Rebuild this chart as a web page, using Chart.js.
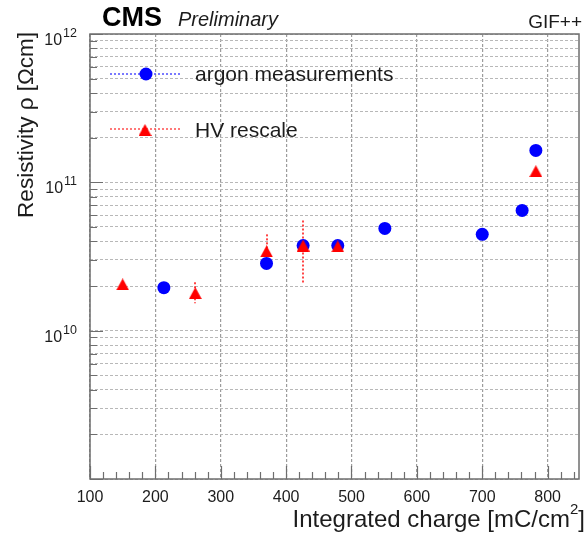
<!DOCTYPE html>
<html>
<head>
<meta charset="utf-8">
<script src="https://cdn.jsdelivr.net/npm/chart.js@4.4.0/dist/chart.umd.min.js"></script>
<style>
  html, body { margin: 0; padding: 0; background: #fff; }
  #wrap { width: 587px; height: 536px; }
</style>
</head>
<body>
<div id="wrap"><canvas id="c" width="587" height="536"></canvas></div>
<script>
// argon measurements
var argonCharge = [213, 370, 426, 479, 551, 700, 761, 782];
var argonRho = [1.95e10, 2.84e10, 3.75e10, 3.75e10, 4.89e10, 4.46e10, 6.47e10, 1.64e11];
// HV rescale
var hvCharge = [150, 261, 370, 426, 479, 782];
var hvRho = [2.05e10, 1.79e10, 3.42e10, 3.75e10, 3.70e10, 1.19e11];
var hvRhoLow = [null, 1.53e10, 2.67e10, 2.09e10, null, null];
var hvRhoHigh = [null, 2.12e10, 4.46e10, 5.53e10, null, null];
// axes
var xMajorTicks = [100, 200, 300, 400, 500, 600, 700, 800];
var yDecades = [9, 10, 11, 12];
var yLabelDecades = [10, 11, 12];

var FONT = '"Liberation Sans", Arial, Helvetica, sans-serif';
var TEXT = '#1c1c1c';
var AXIS = '#6e6e6e';

function triangleMarker(color, w, h) {
    var c = document.createElement('canvas');
    c.width = w; c.height = h;
    var g = c.getContext('2d');
    g.fillStyle = color;
    g.beginPath();
    g.moveTo(w / 2, 0);
    g.lineTo(w, h);
    g.lineTo(0, h);
    g.closePath();
    g.fill();
    return c;
}
var redTriangle = triangleMarker('#ff0000', 13, 12);

function pts(xs, ys) {
    return xs.map(function (x, i) { return {x: x, y: ys[i]}; });
}

var errorBars = {
    id: 'errorBars',
    beforeDatasetsDraw: function (chart) {
        var ctx = chart.ctx, xs = chart.scales.x, ys = chart.scales.y;
        ctx.save();
        ctx.strokeStyle = '#ff1a1a';
        ctx.lineWidth = 1.6;
        ctx.setLineDash([2, 2]);
        hvCharge.forEach(function (q, i) {
            if (hvRhoLow[i] == null) return;
            var px = Math.round(xs.getPixelForValue(q));
            ctx.beginPath();
            ctx.moveTo(px, ys.getPixelForValue(hvRhoHigh[i]));
            ctx.lineTo(px, ys.getPixelForValue(hvRhoLow[i]));
            ctx.stroke();
        });
        ctx.restore();
    }
};

var decorations = {
    id: 'decorations',
    afterDraw: function (chart) {
        var ctx = chart.ctx, a = chart.chartArea;
        var xs = chart.scales.x, ys = chart.scales.y;
        ctx.save();

        // frame
        ctx.strokeStyle = AXIS;
        ctx.lineWidth = 1.5;
        ctx.strokeRect(a.left, a.top, a.right - a.left, a.bottom - a.top);

        // x ticks (inward)
        ctx.lineWidth = 1.2;
        ctx.beginPath();
        for (var v = 100; v <= xs.max; v += 20) {
            var px = Math.round(xs.getPixelForValue(v)) + 0.5;
            var len = (v % 100 === 0) ? 13 : 7;
            ctx.moveTo(px, a.bottom);
            ctx.lineTo(px, a.bottom - len);
        }
        // y ticks (inward)
        yDecades.forEach(function (e) {
            for (var m = 1; m <= 9; m++) {
                var val = m * Math.pow(10, e);
                if (val < ys.min || val > ys.max) continue;
                var py = Math.round(ys.getPixelForValue(val)) + 0.5;
                ctx.moveTo(a.left, py);
                ctx.lineTo(a.left + (m === 1 ? 13 : 7), py);
            }
        });
        ctx.stroke();

        // x tick labels
        ctx.fillStyle = TEXT;
        ctx.font = '16px ' + FONT;
        ctx.textAlign = 'center';
        ctx.textBaseline = 'alphabetic';
        xMajorTicks.forEach(function (v) {
            ctx.fillText(String(v), xs.getPixelForValue(v), 502);
        });

        // y tick labels 10^n
        yLabelDecades.forEach(function (e) {
            var py = ys.getPixelForValue(Math.pow(10, e));
            ctx.font = '12.5px ' + FONT;
            var sup = String(e);
            var supW = ctx.measureText(sup).width;
            ctx.textAlign = 'left';
            ctx.fillText(sup, 77 - supW, py + 3);
            ctx.font = '16px ' + FONT;
            var tenW = ctx.measureText('10').width;
            ctx.fillText('10', 77 - supW - 1 - tenW, py + 11);
        });

        // x title
        ctx.font = '24px ' + FONT;
        var t1 = 'Integrated charge [mC/cm';
        var w1 = ctx.measureText(t1).width;
        var w3 = ctx.measureText(']').width;
        ctx.font = '15px ' + FONT;
        var w2 = ctx.measureText('2').width;
        var x0 = 585 - w1 - w2 - w3;
        ctx.font = '24px ' + FONT;
        ctx.fillText(t1, x0, 527);
        ctx.fillText(']', x0 + w1 + w2, 527);
        ctx.font = '15px ' + FONT;
        ctx.fillText('2', x0 + w1, 514);

        // y title
        ctx.save();
        ctx.translate(33, 32);
        ctx.rotate(-Math.PI / 2);
        ctx.font = '22.5px ' + FONT;
        ctx.textAlign = 'right';
        ctx.fillText('Resistivity \u03c1 [\u03a9cm]', 0, 0);
        ctx.restore();

        // header
        ctx.textAlign = 'left';
        ctx.fillStyle = '#000';
        ctx.font = 'bold 27px ' + FONT;
        ctx.fillText('CMS', 102, 26);
        ctx.fillStyle = TEXT;
        ctx.font = 'italic 20px ' + FONT;
        ctx.fillText('Preliminary', 178, 26);
        ctx.font = '19px ' + FONT;
        ctx.textAlign = 'right';
        ctx.fillText('GIF++', 582, 28);

        // legend
        ctx.lineWidth = 1.5;
        ctx.setLineDash([2, 2]);
        ctx.strokeStyle = '#4d4dff';
        ctx.beginPath(); ctx.moveTo(110, 74); ctx.lineTo(181, 74); ctx.stroke();
        ctx.strokeStyle = '#ff4d4d';
        ctx.beginPath(); ctx.moveTo(110, 129); ctx.lineTo(181, 129); ctx.stroke();
        ctx.setLineDash([]);
        ctx.fillStyle = '#0000ff';
        ctx.beginPath(); ctx.arc(146, 74, 6.5, 0, Math.PI * 2); ctx.fill();
        ctx.drawImage(redTriangle, 145 - 6.5, 130 - 6);
        ctx.fillStyle = TEXT;
        ctx.font = '21px ' + FONT;
        ctx.textAlign = 'left';
        ctx.fillText('argon measurements', 195, 81);
        ctx.fillText('HV rescale', 195, 137);

        ctx.restore();
    }
};

new Chart(document.getElementById('c'), {
    type: 'scatter',
    data: {
        datasets: [{
            label: 'HV rescale',
            data: pts(hvCharge, hvRho),
            pointStyle: redTriangle,
            pointRadius: 7,
            order: 0
        }, {
            label: 'argon measurements',
            data: pts(argonCharge, argonRho),
            pointStyle: 'circle',
            pointRadius: 6.5,
            backgroundColor: '#0000ff',
            borderWidth: 0,
            order: 1
        }]
    },
    options: {
        responsive: false,
        animation: false,
        events: [],
        layout: {padding: {top: 34, right: 4, left: 0, bottom: 0}},
        plugins: {legend: {display: false}, tooltip: {enabled: false}},
        scales: {
            x: {
                type: 'linear',
                min: 100,
                max: 848,
                afterBuildTicks: function (s) {
                    s.ticks = xMajorTicks.map(function (v) { return {value: v}; });
                },
                afterFit: function (s) { s.height = 57; },
                ticks: {display: false},
                border: {display: false, dash: [3, 2]},
                grid: {drawTicks: false, color: '#9c9c9c', lineWidth: 1.2}
            },
            y: {
                type: 'logarithmic',
                min: 1e9,
                max: 1e12,
                afterBuildTicks: function (s) {
                    var t = [];
                    yDecades.forEach(function (e) {
                        for (var m = 1; m <= 9; m++) {
                            var val = m * Math.pow(10, e);
                            if (val <= 1e12) t.push({value: val});
                        }
                    });
                    s.ticks = t;
                },
                afterFit: function (s) { s.width = 90; },
                ticks: {display: false},
                border: {display: false, dash: [3, 2]},
                grid: {drawTicks: false, color: '#b8b8b8', lineWidth: 1}
            }
        }
    },
    plugins: [errorBars, decorations]
});
</script>
</body>
</html>
